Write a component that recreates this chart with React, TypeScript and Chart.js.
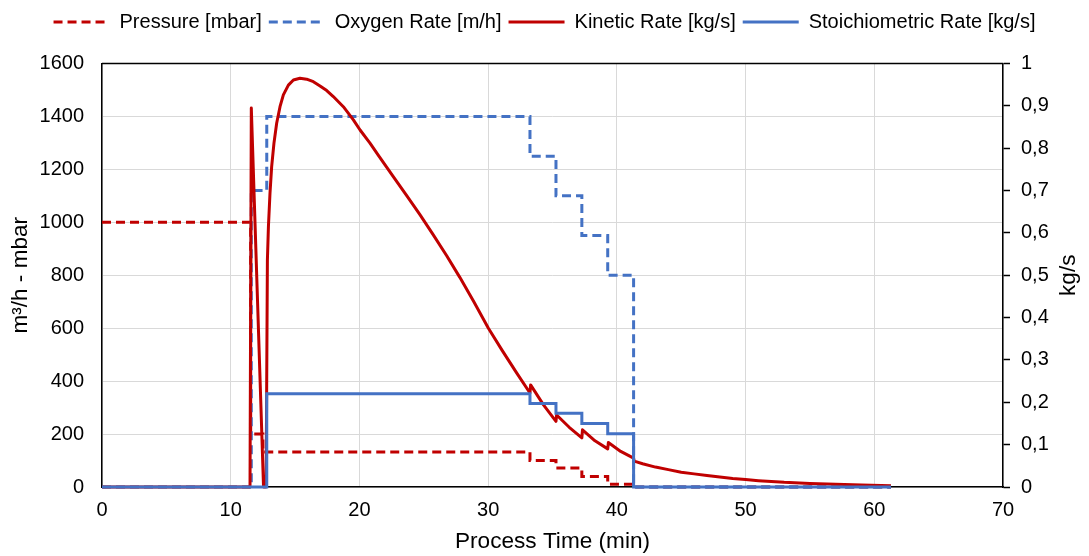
import React, { useEffect, useRef } from "react";
import { Chart, registerables } from "chart.js";

Chart.register(...registerables);

// ---- Data ----
const xTicks = [0, 10, 20, 30, 40, 50, 60, 70];
const leftTicks = [0, 200, 400, 600, 800, 1000, 1200, 1400, 1600];

const pressureTime = [0, 11.55, 12.5, 33.25, 35.27, 37.28, 39.29, 41.3, 61.3];
const pressureMbar = [1000, 200, 132, 100, 72, 40, 10, 0, 0];

const oxygenTime = [0, 11.6, 12.8, 33.25, 35.27, 37.28, 39.29, 41.3, 61.3];
const oxygenRate = [0, 1120, 1400, 1250, 1100, 950, 800, 0, 0];

const kineticTime = [
  0, 11.5, 11.6, 12.55, 12.75, 12.85, 12.93, 13.05, 13.18, 13.36, 13.57, 13.83,
  14.09, 14.48, 14.87, 15.38, 15.9, 16.42, 16.94, 17.46, 17.97, 18.75, 19.53,
  20.05, 20.82, 21.5, 22.63, 23.7, 24.7, 25.7, 26.78, 27.8, 28.9, 30.02, 31.1,
  32.2, 33.25, 33.3, 34.3, 35.27, 35.32, 36.3, 37.28, 37.33, 38.3, 39.29, 39.34,
  40.3, 41.3, 41.35, 42, 43, 44, 45, 46, 47, 48, 49, 50, 51, 52, 53, 55, 57, 59,
  61.3,
];
const kineticRate = [
  0, 0, 0.895, 0, 0, 0.536, 0.615, 0.693, 0.756, 0.812, 0.859, 0.898,
  0.926, 0.949, 0.961, 0.965, 0.963, 0.957, 0.947, 0.936, 0.922, 0.898, 0.867,
  0.843, 0.812, 0.782, 0.733, 0.687, 0.643, 0.597, 0.546, 0.495, 0.437, 0.375, 0.322,
  0.27, 0.222, 0.241, 0.194, 0.155, 0.17, 0.141, 0.116, 0.135, 0.109, 0.09, 0.105,
  0.084, 0.068, 0.061, 0.055, 0.047, 0.041, 0.035, 0.031, 0.027, 0.0235, 0.02, 0.0175, 0.015, 0.013, 0.011, 0.0085, 0.0065, 0.0045,
  0.003,
];

const stoichTime = [0, 12.8, 33.25, 35.27, 37.28, 39.29, 41.3, 61.3];
const stoichRate = [0, 0.22, 0.197, 0.174, 0.15, 0.126, 0, 0];

const seriesLabels = [
  "Pressure [mbar]",
  "Oxygen Rate [m/h]",
  "Kinetic Rate [kg/s]",
  "Stoichiometric Rate [kg/s]",
];

const RED = "#C00000";
const BLUE = "#4472C4";
const FONT = "'Liberation Sans', Arial, sans-serif";
const DASH = [9, 5];

const pts = (xs: number[], ys: number[]) => xs.map((x, i) => ({ x, y: ys[i] }));

const framePlugin = {
  id: "frameAndRightTitle",
  beforeLayout(chart: any) {
    const lg = chart.legend;
    if (lg && !lg._patchedFit) {
      const orig = lg.fit.bind(lg);
      lg.fit = function () {
        orig();
        this.height = 58.5;
      };
      lg._patchedFit = true;
    }
  },
  beforeDatasetsDraw(chart: any) {
    const { ctx, chartArea: a } = chart;
    ctx.save();
    ctx.strokeStyle = "#000";
    ctx.lineWidth = 1.5;
    ctx.beginPath();
    ctx.moveTo(a.left, a.top);
    ctx.lineTo(a.right, a.top);
    ctx.stroke();
    ctx.restore();
  },
  afterDraw(chart: any) {
    const { ctx, chartArea: a } = chart;
    ctx.save();
    ctx.translate(1069, (a.top + a.bottom) / 2);
    ctx.rotate(-Math.PI / 2);
    ctx.fillStyle = "#000";
    ctx.font = `22.6px ${FONT}`;
    ctx.textAlign = "center";
    ctx.textBaseline = "middle";
    ctx.fillText("kg/s", 0, 0);
    ctx.restore();
  },
};

export default function App() {
  const ref = useRef<HTMLCanvasElement | null>(null);

  useEffect(() => {
    if (!ref.current) return;
    Chart.defaults.font.family = FONT;
    const chart = new Chart(ref.current, {
      type: "line",
      data: {
        datasets: [
          {
            label: seriesLabels[0],
            data: pts(pressureTime, pressureMbar),
            borderColor: RED,
            backgroundColor: RED,
            borderWidth: 3,
            borderDash: DASH,
            stepped: "before",
            pointRadius: 0,
            yAxisID: "y",
            order: 4,
            clip: false,
          },
          {
            label: seriesLabels[1],
            data: pts(oxygenTime, oxygenRate),
            borderColor: BLUE,
            backgroundColor: BLUE,
            borderWidth: 3,
            borderDash: DASH,
            stepped: "before",
            pointRadius: 0,
            yAxisID: "y",
            order: 3,
            clip: false,
          },
          {
            label: seriesLabels[2],
            data: pts(kineticTime, kineticRate),
            borderColor: RED,
            backgroundColor: RED,
            borderWidth: 3,
            tension: 0,
            borderJoinStyle: "round",
            pointRadius: 0,
            yAxisID: "y1",
            order: 2,
            clip: false,
          },
          {
            label: seriesLabels[3],
            data: pts(stoichTime, stoichRate),
            borderColor: BLUE,
            backgroundColor: BLUE,
            borderWidth: 3,
            stepped: "before",
            pointRadius: 0,
            yAxisID: "y1",
            order: 1,
            clip: false,
          },
        ] as any,
      },
      options: {
        animation: false,
        responsive: false,
        devicePixelRatio: 1,
        layout: { padding: { top: 5, left: 0, right: 0, bottom: 0 } },
        plugins: {
          tooltip: { enabled: false },
          legend: {
            position: "top",
            align: "center",
            labels: {
              usePointStyle: true,
              pointStyle: "line",
              pointStyleWidth: 56,
              padding: 7,
              color: "#000",
              font: { size: 20, family: FONT },
              generateLabels: (chart: any) =>
                chart.data.datasets.map((ds: any, i: number) => ({
                  text: ds.label,
                  fillStyle: ds.borderColor,
                  strokeStyle: ds.borderColor,
                  lineWidth: 3,
                  lineDash: ds.borderDash || [],
                  lineCap: "butt",
                  pointStyle: "line",
                  hidden: false,
                  datasetIndex: i,
                  fontColor: "#000",
                })),
            },
          },
        },
        scales: {
          x: {
            type: "linear",
            min: 0,
            max: 70,
            afterBuildTicks: (s: any) => {
              s.ticks = xTicks.map((v) => ({ value: v }));
            },
            afterFit: (s: any) => {
              s.height = 69;
            },
            ticks: {
              color: "#000",
              font: { size: 20, family: FONT },
              padding: 11,
              maxRotation: 0,
              callback: (v: any) => String(v),
            },
            grid: { color: "#D9D9D9", lineWidth: 1, drawTicks: false },
            border: { color: "#000", width: 1.5 },
            title: {
              display: true,
              text: "Process Time (min)",
              color: "#000",
              font: { size: 22.6, family: FONT },
              padding: { top: 0, bottom: 1 },
            },
          },
          y: {
            type: "linear",
            position: "left",
            min: 0,
            max: 1600,
            afterBuildTicks: (s: any) => {
              s.ticks = leftTicks.map((v) => ({ value: v }));
            },
            afterFit: (s: any) => {
              s.width = 102;
            },
            ticks: {
              color: "#000",
              font: { size: 20, family: FONT },
              padding: 18,
              callback: (v: any) => String(v),
            },
            grid: { color: "#D9D9D9", lineWidth: 1, drawTicks: false },
            border: { color: "#000", width: 1.5 },
            title: {
              display: true,
              text: "m³/h - mbar",
              color: "#000",
              font: { size: 22.6, family: FONT },
              padding: { top: 7, bottom: 0 },
            },
          },
          y1: {
            type: "linear",
            position: "right",
            min: 0,
            max: 1,
            ticks: {
              stepSize: 0.1,
              color: "#000",
              font: { size: 20, family: FONT },
              padding: 11,
              callback: (v: any) => {
                const n = Number(v);
                if (Math.abs(n) < 1e-9) return "0";
                if (Math.abs(n - 1) < 1e-9) return "1";
                return n.toFixed(1).replace(".", ",");
              },
            },
            afterFit: (s: any) => {
              s.width = 86;
            },
            grid: {
              drawOnChartArea: false,
              drawTicks: true,
              tickLength: 7,
              tickColor: "#000",
              tickWidth: 1.5,
            },
            border: { color: "#000", width: 1.5 },
          },
        },
      } as any,
      plugins: [framePlugin],
    });
    return () => chart.destroy();
  }, []);

  return (
    <div style={{ position: "absolute", left: 0, top: 0, width: 1089, height: 556, background: "#fff" }}>
      <canvas ref={ref} width={1089} height={556} style={{ width: 1089, height: 556, display: "block" }} />
    </div>
  );
}
